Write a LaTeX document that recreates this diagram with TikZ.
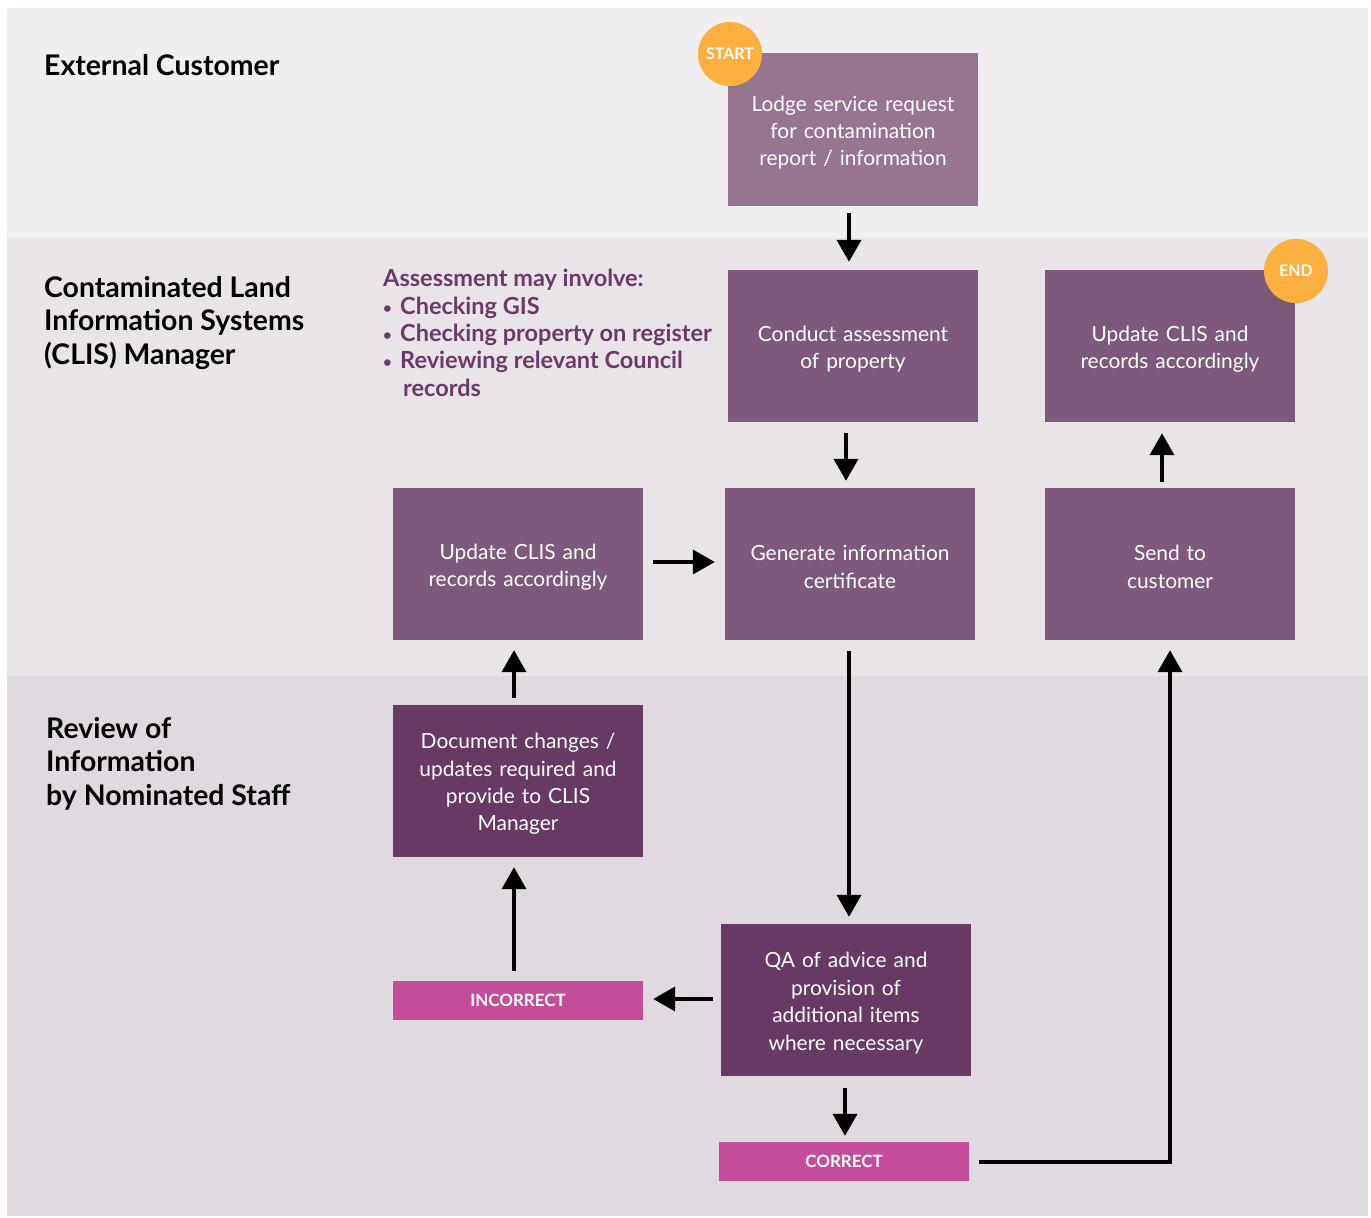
\documentclass[tikz,border=0pt]{standalone}
\usepackage{fontspec}
\setmainfont{Lato}
\usetikzlibrary{arrows.meta}
\definecolor{laneA}{HTML}{F0EEF0}
\definecolor{laneB}{HTML}{E9E4E8}
\definecolor{laneC}{HTML}{E0D9E0}
\definecolor{boxLight}{HTML}{967590}
\definecolor{boxMid}{HTML}{7D5A7B}
\definecolor{boxDark}{HTML}{673A64}
\definecolor{tagPink}{HTML}{C44D9A}
\definecolor{badge}{HTML}{FBB040}
\definecolor{noteText}{HTML}{6B3A68}
\newcommand{\notebullet}{\makebox[17bp][l]{\raisebox{1bp}{\fontsize{15}{15}\selectfont\textbullet}}}
\tikzset{
  stepbox/.style={rectangle, minimum width=250bp, minimum height=152bp, text width=230bp,
    align=center, text=white, inner sep=0pt,
    font=\fontsize{21}{27.5}\selectfont,
    execute at end node={\par\vspace*{-6bp}}},
  tagbox/.style={rectangle, fill=tagPink, minimum width=250bp, minimum height=39bp,
    inner sep=0pt, text=white, font=\fontsize{17}{20}\selectfont\bfseries},
  badgecirc/.style={circle, fill=badge, minimum size=64bp, inner sep=0pt, text=white,
    font=\fontsize{16}{18}\selectfont\bfseries},
  lanetitle/.style={anchor=north west, align=left, inner sep=0pt,
    font=\fontsize{28.5}{33.7}\selectfont\bfseries},
  arr/.style={line width=4bp, -{Triangle[width=24bp,length=22bp]}}
}
\begin{document}
\begin{tikzpicture}[x=1bp,y=-1bp]
\useasboundingbox (0,0) rectangle (1371,1217);
% swimlanes
\fill[laneA] (7,8) rectangle (1368,238);
\fill[laneB] (7,238) rectangle (1368,676);
\fill[laneC] (7,676) rectangle (1368,1216);

% lane titles
\node[lanetitle] (laneext) at (44,54) {External Customer};
\node[lanetitle] (laneclis) at (44,276) {Contaminated Land\\Information Systems\\(CLIS) Manager};
\node[lanetitle] (lanerev) at (46,717) {Review of\\Information\\by Nominated Staff};

% assessment note
\node[anchor=north west, align=left, inner sep=0pt, text=noteText,
  font=\fontsize{23.6}{27.5}\selectfont\bfseries] (note) at (383,269)
  {Assessment may involve:\\
   \notebullet Checking GIS\\
   \notebullet Checking property on register\\
   \notebullet Reviewing relevant Council\\
   \hspace*{20bp}records};

% process steps
\node[stepbox, fill=boxLight, minimum height=153bp] (lodge) at (853,129.5)
  {Lodge service request\\for contamination\\report / information};
\node[stepbox, fill=boxMid] (conduct) at (853,346) {Conduct assessment\\of property};
\node[stepbox, fill=boxMid] (updr) at (1170,346) {Update CLIS and\\records accordingly};
\node[stepbox, fill=boxMid] (updl) at (518,564) {Update CLIS and\\records accordingly};
\node[stepbox, fill=boxMid] (gen) at (850,564) {Generate information\\certificate};
\node[stepbox, fill=boxMid] (send) at (1170,564) {Send to\\customer};
\node[stepbox, fill=boxDark] (doc) at (518,781)
  {Document changes /\\updates required and\\provide to CLIS\\Manager};
\node[stepbox, fill=boxDark] (qa) at (846,1000)
  {QA of advice and\\provision of\\additional items\\where necessary};
\node[tagbox] (incorrect) at (518,1000.5) {INCORRECT};
\node[tagbox] (correct) at (844,1161.5) {CORRECT};

% start / end badges
\node[badgecirc] (start) at (730,54) {START};
\node[badgecirc] (end) at (1296,271) {END};

% connectors
\draw[arr, shorten <=7bp, shorten >=8bp] ([xshift=-4bp]lodge.south) -- ([xshift=-4bp]lodge.south |- conduct.north);
\draw[arr, shorten <=11bp, shorten >=7bp] ([xshift=-7bp]conduct.south) -- ([xshift=-7bp]conduct.south |- gen.north);
\draw[arr, shorten <=10bp, shorten >=10bp] ([yshift=2bp]updl.east) -- ([yshift=2bp]updl.east -| gen.west);
\draw[arr, shorten <=11bp, shorten >=7bp] ([xshift=-1bp]gen.south) -- ([xshift=-1bp]gen.south |- qa.north);
\draw[arr, shorten <=12bp, shorten >=6bp] ([xshift=-1bp]qa.south) -- ([xshift=-1bp]qa.south |- correct.north);
\draw[arr, shorten <=8bp, shorten >=10bp] ([yshift=1bp]qa.west) -- ([yshift=1bp]qa.west -| incorrect.east);
\draw[arr, shorten <=10bp, shorten >=10bp] ([xshift=-4bp]incorrect.north) -- ([xshift=-4bp]incorrect.north |- doc.south);
\draw[arr, shorten <=7bp, shorten >=10bp] ([xshift=-4bp]doc.north) -- ([xshift=-4bp]doc.north |- updl.south);
\draw[arr, shorten <=6bp, shorten >=11bp] ([xshift=-8bp]send.north) -- ([xshift=-8bp]send.north |- updr.south);
\draw[arr, shorten <=10bp, shorten >=10bp] (correct.east) -| (send.south);
\end{tikzpicture}
\end{document}
